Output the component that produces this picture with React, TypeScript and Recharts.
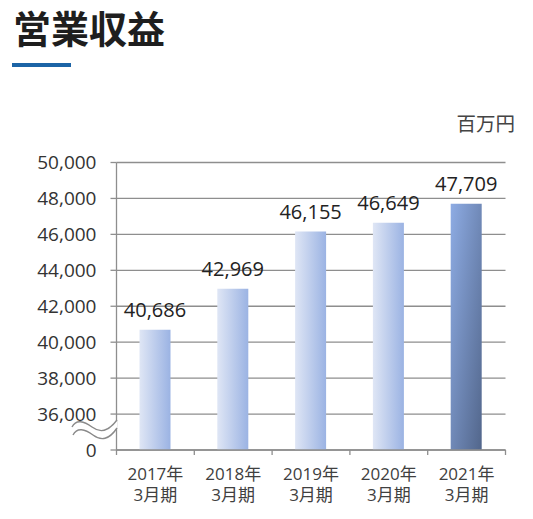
import React from 'react';
import { BarChart, Bar, XAxis, YAxis, CartesianGrid, Cell, LabelList } from 'recharts';

// 営業収益 (百万円)
const fiscalYears = ['2017年', '2018年', '2019年', '2020年', '2021年'];
const fiscalPeriod = '3月期';
const revenue = [40686, 42969, 46155, 46649, 47709];
// the axis is broken: its lowest tick stands for 0
const axisFloor = 34000;
const yTicks = [34000, 36000, 38000, 40000, 42000, 44000, 46000, 48000, 50000];

const data = fiscalYears.map((year, i) => ({ year, revenue: revenue[i] }));

const W = 533;
const H = 519;
const Y_AXIS_W = 116.5;
const M_RIGHT = 27.5;
const M_TOP = 162.5;
const X_AXIS_H = 69;
const BAND = (W - Y_AXIS_W - M_RIGHT) / fiscalYears.length;

const FONT = '"Open Sans", "Noto Sans CJK JP", sans-serif';
const GRID = '#8e8e8e';

const fmt = (v: number) => (v === axisFloor ? '0' : v.toLocaleString('en-US'));

const YearTick = (props: any) => {
  const { x, y, payload, index } = props;
  const left = x - BAND / 2;
  return (
    <g>
      <line x1={left} x2={left} y1={y} y2={y + 5} stroke={GRID} strokeWidth={1.3} />
      {index === fiscalYears.length - 1 && (
        <line x1={left + BAND} x2={left + BAND} y1={y} y2={y + 5} stroke={GRID} strokeWidth={1.3} />
      )}
      <text x={x} y={y + 30} textAnchor="middle" fontSize={17} fill="#404040" fontFamily={FONT}>
        {payload.value}
      </text>
      <text x={x} y={y + 51} textAnchor="middle" fontSize={17} fill="#404040" fontFamily={FONT}>
        {fiscalPeriod}
      </text>
    </g>
  );
};

export default function App() {
  return (
    <div style={{ position: 'absolute', left: 0, top: 0, width: W, height: H, background: '#fff', fontFamily: FONT }}>
      <div
        style={{
          position: 'absolute',
          left: 13,
          top: 8,
          fontSize: 38,
          fontWeight: 700,
          lineHeight: 1,
          color: '#1e1e1e',
          fontFamily: '"Noto Sans CJK JP", sans-serif',
        }}
      >
        営業収益
      </div>
      <div style={{ position: 'absolute', left: 12, top: 63, width: 59, height: 4, background: '#1c64a6' }} />
      <div
        style={{
          position: 'absolute',
          right: 18,
          top: 113,
          fontSize: 19.5,
          lineHeight: 1,
          color: '#444',
          fontFamily: '"Noto Sans CJK JP", sans-serif',
        }}
      >
        百万円
      </div>

      <BarChart
        width={W}
        height={H}
        data={data}
        margin={{ top: M_TOP, right: M_RIGHT, left: 0, bottom: 0 }}
        style={{ position: 'absolute', left: 0, top: 0 }}
      >
        <defs>
          <linearGradient id="barLight" x1="0" y1="0" x2="1" y2="0">
            <stop offset="0%" stopColor="#dfe6f5" />
            <stop offset="100%" stopColor="#9bb3e3" />
          </linearGradient>
          <linearGradient id="barDark" x1="0" y1="0" x2="1" y2="1">
            <stop offset="0%" stopColor="#8eacE4" />
            <stop offset="100%" stopColor="#52668b" />
          </linearGradient>
        </defs>
        <CartesianGrid vertical={false} stroke={GRID} strokeWidth={1.3} />
        <XAxis
          dataKey="year"
          height={X_AXIS_H}
          axisLine={{ stroke: GRID, strokeWidth: 1.3 }}
          tickLine={false}
          tickSize={0}
          tickMargin={0}
          interval={0}
          tick={<YearTick />}
        />
        <YAxis
          width={Y_AXIS_W}
          domain={[axisFloor, 50000]}
          ticks={yTicks}
          allowDataOverflow
          tickFormatter={fmt}
          axisLine={{ stroke: GRID, strokeWidth: 1.3 }}
          tickLine={{ stroke: GRID, strokeWidth: 1.3 }}
          tickSize={6}
          tickMargin={14}
          tick={{ fill: '#333', fontSize: 19, fontFamily: FONT }}
        />
        <Bar dataKey="revenue" barSize={31} isAnimationActive={false}>
          {data.map((d, i) => (
            <Cell key={d.year} fill={i === data.length - 1 ? 'url(#barDark)' : 'url(#barLight)'} />
          ))}
          <LabelList
            dataKey="revenue"
            position="top"
            offset={13}
            formatter={(v: any) => Number(v).toLocaleString('en-US')}
            style={{ fill: '#222', fontSize: 20, fontFamily: FONT }}
          />
        </Bar>
      </BarChart>

      {/* axis break marks */}
      <svg width={W} height={H} style={{ position: 'absolute', left: 0, top: 0, pointerEvents: 'none' }}>
        <path
          d="M72 427 C 76 419, 84 421, 92 427 S 108 432, 117 420 L 117 428 C 108 440, 101 435, 93 435 S 77 427, 73 435 Z"
          fill="#fff"
        />
        <path d="M72 427 C 76 419, 84 421, 92 427 S 108 432, 117 420" fill="none" stroke="#8a8a8a" strokeWidth={1.4} />
        <path d="M73 435 C 77 427, 85 429, 93 435 S 109 440, 117 428" fill="none" stroke="#8a8a8a" strokeWidth={1.4} />
      </svg>
    </div>
  );
}
